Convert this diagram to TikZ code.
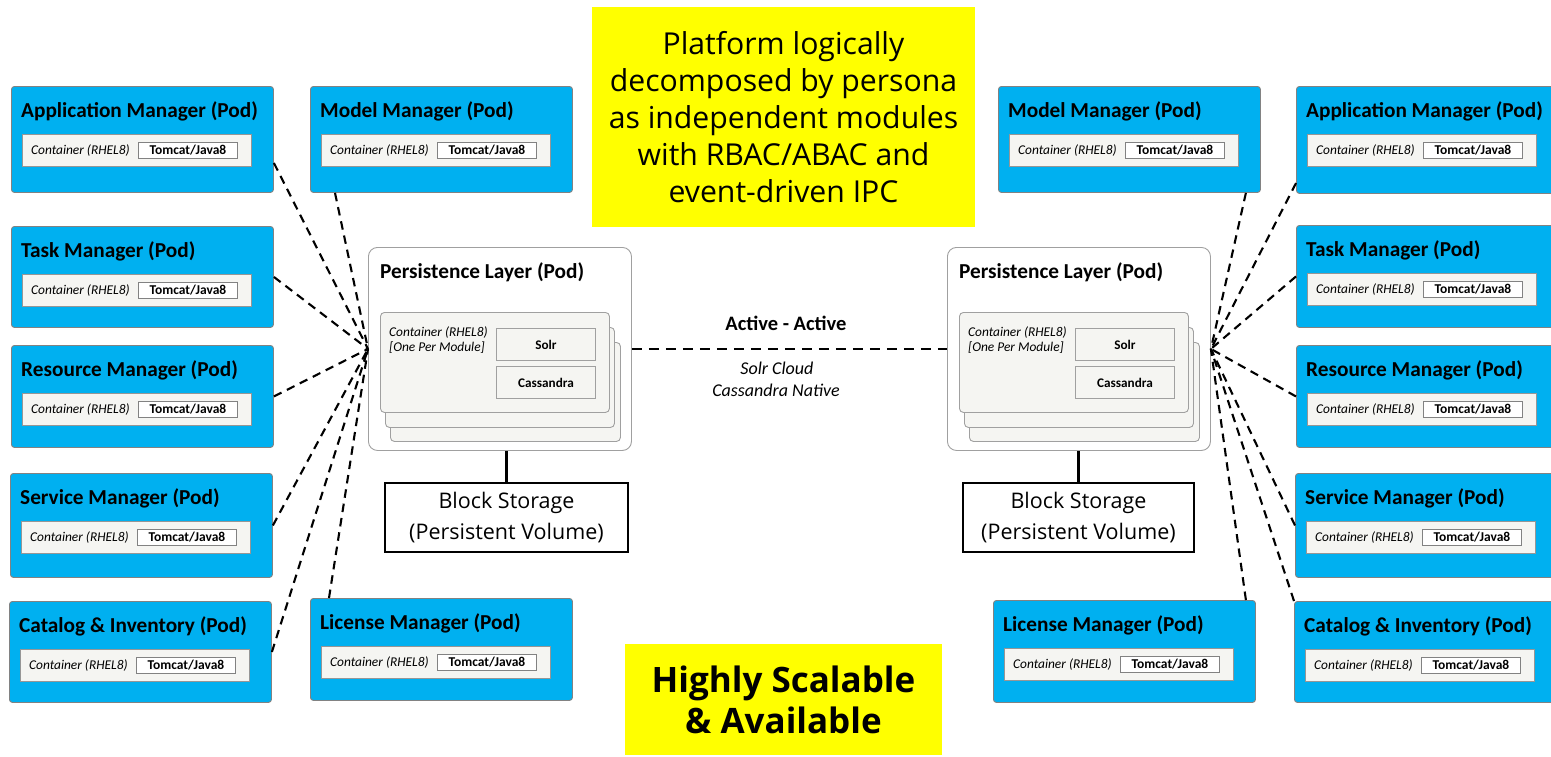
\documentclass[tikz,border=0pt]{standalone}
\usepackage{fontspec}
\setmainfont{Carlito}
\newfontfamily\segoe{Open Sans}
\usetikzlibrary{calc}
\definecolor{podblue}{RGB}{0,176,240}
\definecolor{podborder}{RGB}{130,130,130}
\definecolor{contfill}{RGB}{245,245,242}
\definecolor{contborder}{RGB}{150,150,150}
\definecolor{perborder}{RGB}{160,160,160}
\definecolor{yell}{RGB}{255,255,0}
\tikzset{
  pod/.style={draw=podborder, fill=podblue, rounded corners=3pt, line width=0.9pt, minimum width=262pt, inner sep=0pt, anchor=north west},
  podtitle/.style={font=\fontsize{21.3}{25}\selectfont\bfseries, inner sep=0pt, anchor=west},
  cont/.style={draw=contborder, fill=contfill, minimum width=229pt, minimum height=32pt, inner sep=0pt, line width=0.9pt, anchor=north west},
  contlbl/.style={font=\fontsize{13.4}{16}\selectfont\itshape, inner sep=0pt, anchor=west},
  tomcat/.style={draw=podborder, fill=white, minimum width=99pt, minimum height=16pt, inner sep=0pt, font=\fontsize{13.5}{16}\selectfont\bfseries, line width=0.9pt, anchor=west},
  perouter/.style={draw=perborder, fill=white, rounded corners=9pt, line width=0.9pt, minimum width=263pt, minimum height=203pt, inner sep=0pt, anchor=north west},
  perstack/.style={draw=perborder, fill=contfill, rounded corners=4pt, line width=0.9pt, minimum width=229pt, minimum height=100pt, inner sep=0pt, anchor=north west},
  dbbox/.style={draw=perborder, fill=contfill, line width=0.9pt, minimum width=99pt, minimum height=32pt, inner sep=0pt, font=\fontsize{13.2}{16}\selectfont\bfseries, anchor=north west},
  blockst/.style={draw=black, fill=white, line width=2.4pt, minimum height=69pt, inner sep=0pt, align=center, font=\segoe\fontsize{21.5}{31}\selectfont},
  dashline/.style={draw=black, line width=2.1pt, dash pattern=on 8.5pt off 6pt},
  yellowbox/.style={fill=yell, inner sep=0pt, align=center},
  plain/.style={inner sep=0pt}
}
\newcommand\mypod[5]{%
  \node[pod, minimum height=#5pt] (#1) at (#2,#3) {};
  \node[podtitle] (#1-title) at ($(#1.north west)+(10,25)$) {#4};
  \node[cont] (#1-cont) at ($(#1.north west)+(11,48)$) {};
  \node[contlbl] (#1-cl) at ($(#1-cont.west)+(9,0)$) {Container (RHEL8)};
  \node[tomcat] (#1-tc) at ($(#1-cont.west)+(116,0)$) {Tomcat/Java8};
}
\newcommand\mypersist[3]{%
  \node[perouter] (#1) at (#2,#3) {};
  \node[podtitle] (#1-title) at ($(#1.north west)+(12,25)$) {Persistence Layer (Pod)};
  \node[perstack, minimum width=230pt, minimum height=99pt] (#1-s3) at ($(#1.north west)+(22,95)$) {};
  \node[perstack] (#1-s2) at ($(#1.north west)+(17,80)$) {};
  \node[perstack] (#1-s1) at ($(#1.north west)+(12,65)$) {};
  \node[contlbl] (#1-cl1) at ($(#1.north west)+(21,86)$) {Container (RHEL8)};
  \node[contlbl] (#1-cl2) at ($(#1.north west)+(21,101)$) {[One Per Module]};
  \node[dbbox] (#1-solr) at ($(#1.north west)+(128,81)$) {Solr};
  \node[dbbox] (#1-cass) at ($(#1.north west)+(128,119)$) {Cassandra};
}
\begin{document}
\begin{tikzpicture}[x=1pt,y=-1pt]
\useasboundingbox (0,0) rectangle (1551,756);
\begin{scope}
\clip (0,0) rectangle (1551,756);
% yellow boxes
\node[yellowbox, minimum width=383pt, minimum height=220pt, font=\segoe\fontsize{30.2}{37.2}\selectfont] (topnote) at (783.5,117)
  {Platform logically\\decomposed by persona\\as independent modules\\with RBAC/ABAC and\\event-driven IPC};
\node[yellowbox, minimum width=317pt, minimum height=111pt, font=\segoe\fontsize{35}{41}\selectfont\bfseries] (botnote) at (783.5,699.5)
  {Highly Scalable\\\& Available};
% persistence layers
\mypersist{perL}{368}{247}
\mypersist{perR}{947}{247}
\node[blockst, minimum width=243pt] (bsL) at (506.5,517.5) {Block Storage\\(Persistent Volume)};
\node[blockst, minimum width=231pt] (bsR) at (1078.5,517.5) {Block Storage\\(Persistent Volume)};
\draw[line width=2.4pt] (bsL.north) -- (bsL.north |- perL.south);
\draw[line width=2.4pt] (bsR.north) -- (bsR.north |- perR.south);
% active-active
\draw[dashline, dash pattern=on 10pt off 7pt] (perL.east) -- (perR.west);
\node[plain, font=\fontsize{20.5}{24}\selectfont\bfseries] (aa) at (786,323) {Active - Active};
\node[plain, font=\fontsize{18}{21}\selectfont\itshape] (sc) at (777,368) {Solr Cloud};
\node[plain, font=\fontsize{18}{21}\selectfont\itshape] (cn) at (776,390) {Cassandra Native};
% pods left
\mypod{appL}{11}{86}{Application Manager (Pod)}{106}
\mypod{modL}{310}{86}{Model Manager (Pod)}{106}
\mypod{taskL}{11}{226}{Task Manager (Pod)}{101}
\mypod{resL}{11}{345}{Resource Manager (Pod)}{102}
\mypod{svcL}{10}{473}{Service Manager (Pod)}{104}
\mypod{catL}{9}{601}{Catalog \& Inventory (Pod)}{101}
\mypod{licL}{310}{598}{License Manager (Pod)}{102}
% pods right
\mypod{modR}{998}{86}{Model Manager (Pod)}{106}
\mypod{appR}{1296}{86}{Application Manager (Pod)}{107}
\mypod{taskR}{1296}{225}{Task Manager (Pod)}{102}
\mypod{resR}{1296}{345}{Resource Manager (Pod)}{102}
\mypod{svcR}{1295}{473}{Service Manager (Pod)}{104}
\mypod{catR}{1294}{601}{Catalog \& Inventory (Pod)}{101}
\mypod{licR}{993}{600}{License Manager (Pod)}{102}
% dashed connectors left
\draw[dashline] ($(appL.north east)!0.72!(appL.south east)$) -- (perL.west);
\draw[dashline] ($(modL.south west)+(25,0)$) -- (perL.west);
\draw[dashline] (taskL.east) -- (perL.west);
\draw[dashline] (resL.east) -- (perL.west);
\draw[dashline] (svcL.east) -- (perL.west);
\draw[dashline] (catL.east) -- (perL.west);
\draw[dashline] ($(licL.north west)+(19,0)$) -- (perL.west);
% dashed connectors right
\draw[dashline] ($(modR.south east)+(-15,0)$) -- (perR.east);
\draw[dashline] ($(appR.north west)!0.9!(appR.south west)$) -- (perR.east);
\draw[dashline] (taskR.west) -- (perR.east);
\draw[dashline] (resR.west) -- (perR.east);
\draw[dashline] (svcR.west) -- (perR.east);
\draw[dashline] (catR.north west) -- (perR.east);
\draw[dashline] ($(licR.north east)+(-10,0)$) -- (perR.east);
\end{scope}
\end{tikzpicture}
\end{document}
